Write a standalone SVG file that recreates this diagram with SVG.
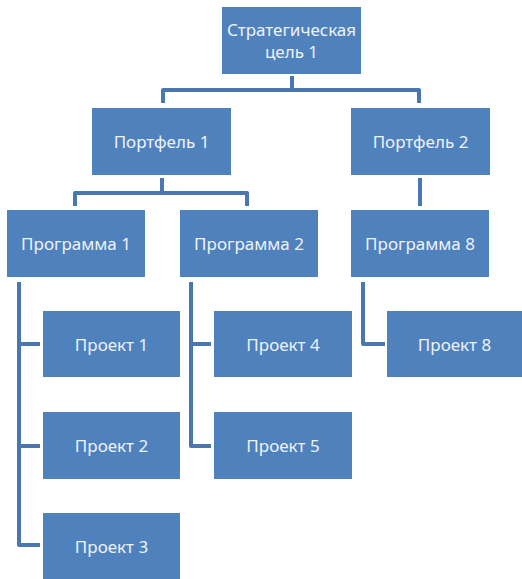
<svg xmlns="http://www.w3.org/2000/svg" width="522" height="579" viewBox="0 0 522 579">
<style>
.box{fill:#4F81BD;}
.t{font-family:"Noto Sans","Liberation Sans",sans-serif;font-size:17px;fill:#EEF3FA;text-anchor:middle;dominant-baseline:central;}
.c{fill:none;stroke:#4A77B0;stroke-width:4;stroke-linejoin:round;}
</style>
<rect width="522" height="579" fill="#fff"/>
<g id="connectors">
<path class="c" d="M292 76V90M163 103V90H419V103"/>
<path class="c" d="M162 178V193M75 206V193H247V206"/>
<path class="c" d="M420 178V206"/>
<path class="c" d="M19 282V545H40M19 344H40M19 446H40"/>
<path class="c" d="M191 282V446H211M191 344H211"/>
<path class="c" d="M363 282V344H385"/>
</g>
<g id="goal"><rect class="box" x="222" y="7" width="139" height="67"/><text class="t" x="291.5" y="29">Стратегическая</text><text class="t" x="291.5" y="51">цель 1</text></g>
<g id="portfolio1"><rect class="box" x="92" y="108" width="139" height="67"/><text class="t" x="161.5" y="141.5">Портфель 1</text></g>
<g id="portfolio2"><rect class="box" x="351" y="108" width="139" height="67"/><text class="t" x="420.5" y="141.5">Портфель 2</text></g>
<g id="program1"><rect class="box" x="7" y="210" width="138" height="67"/><text class="t" x="76" y="243.5">Программа 1</text></g>
<g id="program2"><rect class="box" x="180" y="210" width="138" height="67"/><text class="t" x="249" y="243.5">Программа 2</text></g>
<g id="program8"><rect class="box" x="351" y="210" width="138" height="67"/><text class="t" x="420" y="243.5">Программа 8</text></g>
<g id="project1"><rect class="box" x="43" y="311" width="137" height="66"/><text class="t" x="111.5" y="344">Проект 1</text></g>
<g id="project2"><rect class="box" x="43" y="412" width="137" height="67"/><text class="t" x="111.5" y="445.5">Проект 2</text></g>
<g id="project3"><rect class="box" x="43" y="513" width="137" height="66"/><text class="t" x="111.5" y="546">Проект 3</text></g>
<g id="project4"><rect class="box" x="214" y="311" width="138" height="66"/><text class="t" x="283" y="344">Проект 4</text></g>
<g id="project5"><rect class="box" x="214" y="412" width="138" height="67"/><text class="t" x="283" y="445.5">Проект 5</text></g>
<g id="project8"><rect class="box" x="387" y="311" width="135" height="66"/><text class="t" x="454.5" y="344">Проект 8</text></g>
</svg>
